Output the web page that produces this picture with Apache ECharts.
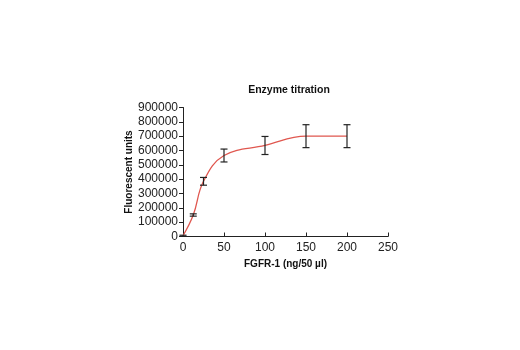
<!DOCTYPE html>
<html><head><meta charset="utf-8">
<script src="https://cdn.jsdelivr.net/npm/echarts@6/dist/echarts.min.js"></script>
<style>html,body{margin:0;padding:0;background:#fff}#c{width:520px;height:350px}</style>
</head><body><div id="c"></div>
<script>
var titleText = 'Enzyme titration';
var xName = 'FGFR-1 (ng/50 µl)';
var yName = 'Fluorescent units';
var doses = [0, 12.5, 25, 50, 100, 150, 200];
var means = [5000, 150000, 385000, 565000, 635000, 700000, 700000];
var errs = [4000, 8000, 27000, 45000, 63000, 80000, 80000];
var xTicks = [0, 50, 100, 150, 200, 250];
var yTicks = [0, 100000, 200000, 300000, 400000, 500000, 600000, 700000, 800000, 900000];

var lineData = doses.map(function(d, i){ return [d, means[i]]; });
var errData = doses.map(function(d, i){ return [d, means[i] - errs[i], means[i] + errs[i]]; });
var sans = '"Liberation Sans", Arial, sans-serif';
var chart = echarts.init(document.getElementById('c'), null, {renderer:'canvas'});
chart.setOption({
  animation: false,
  title: {
    text: titleText, left: 284, top: 80, textAlign: 'center',
    textStyle: {fontFamily: sans, fontWeight: 'bold', fontSize: 10.5, color: '#111'}
  },
  grid: {left: 183, top: 107.5, width: 205, height: 129, containLabel: false},
  xAxis: {
    type: 'value', min: xTicks[0], max: xTicks[xTicks.length-1], interval: 50,
    name: xName, nameLocation: 'middle', nameGap: 23,
    nameTextStyle: {fontFamily: sans, fontWeight: 'bold', fontSize: 10, color: '#111'},
    axisLine: {show: true, lineStyle: {color: '#222', width: 1}},
    axisTick: {show: true, inside: true, length: 4, lineStyle: {color: '#222'}},
    axisLabel: {fontFamily: sans, fontSize: 12, color: '#222', margin: 5,
      formatter: function(v){ return String(v); }},
    splitLine: {show: false}
  },
  yAxis: {
    type: 'value', min: yTicks[0], max: yTicks[yTicks.length-1], interval: 100000,
    name: yName, nameLocation: 'middle', nameGap: 49, nameRotate: 90,
    nameTextStyle: {fontFamily: sans, fontWeight: 'bold', fontSize: 10, color: '#111'},
    axisLine: {show: true, lineStyle: {color: '#222', width: 1}},
    axisTick: {show: true, inside: false, length: 4, lineStyle: {color: '#222'}},
    axisLabel: {fontFamily: sans, fontSize: 12, color: '#222', margin: 5,
      formatter: function(v){ return String(v); }},
    splitLine: {show: false}
  },
  series: [
    {
      type: 'line', data: lineData, smooth: 0.4, symbol: 'none',
      lineStyle: {color: '#e0574f', width: 1.3}, z: 2
    },
    {
      type: 'custom', z: 3,
      data: errData,
      renderItem: function(params, api){
        var x = api.value(0), lo = api.value(1), hi = api.value(2);
        var p1 = api.coord([x, lo]), p2 = api.coord([x, hi]);
        var w = 3.5;
        var st = {stroke: '#222', lineWidth: 1.2};
        return {type: 'group', children: [
          {type: 'line', shape: {x1: p1[0], y1: p1[1], x2: p2[0], y2: p2[1]}, style: st},
          {type: 'line', shape: {x1: p1[0]-w, y1: p1[1], x2: p1[0]+w, y2: p1[1]}, style: st},
          {type: 'line', shape: {x1: p2[0]-w, y1: p2[1], x2: p2[0]+w, y2: p2[1]}, style: st}
        ]};
      }
    }
  ]
});
</script></body></html>
